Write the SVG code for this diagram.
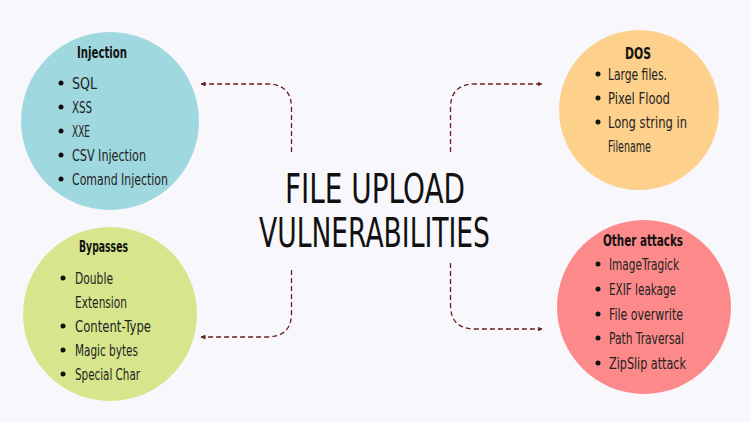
<svg xmlns="http://www.w3.org/2000/svg" width="750" height="422" viewBox="0 0 750 422">
<defs>
<marker id="ah" viewBox="0 0 10 10" refX="9" refY="5" markerWidth="5" markerHeight="5" orient="auto-start-reverse" markerUnits="userSpaceOnUse">
<path d="M0,0 L10,5 L0,10 z" fill="#6b1f22"/>
</marker>
<style>
.bg{fill:#f8f8fc}
.ttl{font-family:"DejaVu Sans Condensed","DejaVu Sans",sans-serif;font-size:16px;font-weight:bold;fill:#111}
.it{font-family:"DejaVu Sans Condensed","DejaVu Sans",sans-serif;font-size:16px;fill:#222}
.main{font-family:"DejaVu Sans Condensed","DejaVu Sans",sans-serif;font-size:40px;fill:#111}
.dot{fill:#111}
.con{fill:none;stroke:#6b1f22;stroke-width:1.3;stroke-dasharray:5 3;marker-end:url(#ah)}
</style>
</defs>
<rect class="bg" x="0" y="0" width="750" height="422"/>
<g id="title">
<text class="main" x="285" y="203" textLength="180" lengthAdjust="spacingAndGlyphs">FILE UPLOAD</text>
<text class="main" x="259" y="247" textLength="231" lengthAdjust="spacingAndGlyphs">VULNERABILITIES</text>
</g>
<g id="connectors">
<path class="con" d="M291.5,152 V108 Q291.5,84 267,84 H201"/>
<path class="con" d="M450.5,152 V108 Q450.5,84 475,84 H542"/>
<path class="con" d="M291.5,270 V313 Q291.5,337 267,337 H201"/>
<path class="con" d="M450.5,263 V305 Q450.5,329 475,329 H542"/>
</g>
<g id="injection">
<circle cx="110" cy="121" r="89" fill="#a0d8e0"/>
<text class="ttl" x="77" y="58" textLength="50" lengthAdjust="spacingAndGlyphs">Injection</text>
<circle class="dot" cx="61" cy="83" r="2.5"/><text class="it" x="72" y="89" textLength="25" lengthAdjust="spacingAndGlyphs">SQL</text>
<circle class="dot" cx="61" cy="107" r="2.5"/><text class="it" x="72" y="113" textLength="20" lengthAdjust="spacingAndGlyphs">XSS</text>
<circle class="dot" cx="61" cy="131" r="2.5"/><text class="it" x="72" y="137" textLength="18" lengthAdjust="spacingAndGlyphs">XXE</text>
<circle class="dot" cx="61" cy="155" r="2.5"/><text class="it" x="72" y="161" textLength="74" lengthAdjust="spacingAndGlyphs">CSV Injection</text>
<circle class="dot" cx="61" cy="179" r="2.5"/><text class="it" x="72" y="185" textLength="96" lengthAdjust="spacingAndGlyphs">Comand Injection</text>
</g>
<g id="dos">
<circle cx="639" cy="110" r="80" fill="#fdd18c"/>
<text class="ttl" x="625" y="59" textLength="26" lengthAdjust="spacingAndGlyphs">DOS</text>
<circle class="dot" cx="598" cy="74" r="2.5"/><text class="it" x="608" y="80" textLength="59" lengthAdjust="spacingAndGlyphs">Large files.</text>
<circle class="dot" cx="598" cy="98" r="2.5"/><text class="it" x="608" y="104" textLength="62" lengthAdjust="spacingAndGlyphs">Pixel Flood</text>
<circle class="dot" cx="598" cy="122" r="2.5"/><text class="it" x="608" y="128" textLength="79" lengthAdjust="spacingAndGlyphs">Long string in</text>
<text class="it" x="608" y="152" textLength="43" lengthAdjust="spacingAndGlyphs">Filename</text>
</g>
<g id="bypasses">
<circle cx="110" cy="314" r="87" fill="#d7e68c"/>
<text class="ttl" x="79" y="252" textLength="49" lengthAdjust="spacingAndGlyphs">Bypasses</text>
<circle class="dot" cx="63" cy="278" r="2.5"/><text class="it" x="75" y="284" textLength="38" lengthAdjust="spacingAndGlyphs">Double</text>
<text class="it" x="75" y="308" textLength="52" lengthAdjust="spacingAndGlyphs">Extension</text>
<circle class="dot" cx="63" cy="326" r="2.5"/><text class="it" x="75" y="332" textLength="76" lengthAdjust="spacingAndGlyphs">Content-Type</text>
<circle class="dot" cx="63" cy="350" r="2.5"/><text class="it" x="75" y="356" textLength="63" lengthAdjust="spacingAndGlyphs">Magic bytes</text>
<circle class="dot" cx="63" cy="374" r="2.5"/><text class="it" x="75" y="380" textLength="65" lengthAdjust="spacingAndGlyphs">Special Char</text>
</g>
<g id="other">
<circle cx="644" cy="307" r="87" fill="#fc8a8a"/>
<text class="ttl" x="603" y="246" textLength="80" lengthAdjust="spacingAndGlyphs">Other attacks</text>
<circle class="dot" cx="598" cy="264" r="2.5"/><text class="it" x="609" y="270" textLength="70" lengthAdjust="spacingAndGlyphs">ImageTragick</text>
<circle class="dot" cx="598" cy="289" r="2.5"/><text class="it" x="609" y="295" textLength="67" lengthAdjust="spacingAndGlyphs">EXIF leakage</text>
<circle class="dot" cx="598" cy="314" r="2.5"/><text class="it" x="609" y="320" textLength="74" lengthAdjust="spacingAndGlyphs">File overwrite</text>
<circle class="dot" cx="598" cy="338" r="2.5"/><text class="it" x="609" y="344" textLength="75" lengthAdjust="spacingAndGlyphs">Path Traversal</text>
<circle class="dot" cx="598" cy="363" r="2.5"/><text class="it" x="609" y="369" textLength="77" lengthAdjust="spacingAndGlyphs">ZipSlip attack</text>
</g>
</svg>
